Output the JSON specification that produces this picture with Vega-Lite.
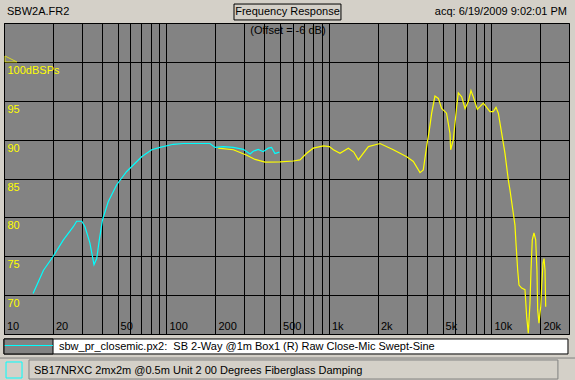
{
  "$schema": "https://vega.github.io/schema/vega-lite/v6.json",
  "width": 565,
  "height": 311,
  "autosize": {"type": "none"},
  "padding": {"left": 4, "top": 23, "right": 6, "bottom": 46},
  "background": "#d4d0c8",
  "config": {
    "view": {"fill": "#838383", "stroke": "#000000", "strokeWidth": 1},
    "font": "Liberation Sans",
    "text": {"font": "Liberation Sans", "fontSize": 11, "color": "#000000"},
    "axis": {
      "domain": false, "ticks": false, "title": null, "grid": true,
      "gridColor": "#000000", "gridOpacity": 1, "gridWidth": 1,
      "labelFont": "Liberation Sans", "labelFontSize": 11,
      "labelOverlap": false, "labelFlush": false, "labelBound": false
    }
  },
  "datasets": {
    "fr": [
      {"series": "SB 2-Way", "freq": 208, "spl": 88.9},
      {"series": "SB 2-Way", "freq": 258, "spl": 88.7},
      {"series": "SB 2-Way", "freq": 312, "spl": 88.0},
      {"series": "SB 2-Way", "freq": 351, "spl": 87.45},
      {"series": "SB 2-Way", "freq": 404, "spl": 87.1},
      {"series": "SB 2-Way", "freq": 500, "spl": 87.15},
      {"series": "SB 2-Way", "freq": 603, "spl": 87.25},
      {"series": "SB 2-Way", "freq": 663, "spl": 87.4},
      {"series": "SB 2-Way", "freq": 729, "spl": 88.24},
      {"series": "SB 2-Way", "freq": 800, "spl": 88.9},
      {"series": "SB 2-Way", "freq": 923, "spl": 89.2},
      {"series": "SB 2-Way", "freq": 1005, "spl": 89.1},
      {"series": "SB 2-Way", "freq": 1065, "spl": 88.7},
      {"series": "SB 2-Way", "freq": 1169, "spl": 88.24},
      {"series": "SB 2-Way", "freq": 1315, "spl": 88.9},
      {"series": "SB 2-Way", "freq": 1420, "spl": 88.4},
      {"series": "SB 2-Way", "freq": 1516, "spl": 87.4},
      {"series": "SB 2-Way", "freq": 1620, "spl": 88.2},
      {"series": "SB 2-Way", "freq": 1748, "spl": 89.1},
      {"series": "SB 2-Way", "freq": 2061, "spl": 89.5},
      {"series": "SB 2-Way", "freq": 2489, "spl": 88.7},
      {"series": "SB 2-Way", "freq": 3008, "spl": 87.8},
      {"series": "SB 2-Way", "freq": 3305, "spl": 87.2},
      {"series": "SB 2-Way", "freq": 3632, "spl": 85.75},
      {"series": "SB 2-Way", "freq": 3805, "spl": 86.1},
      {"series": "SB 2-Way", "freq": 3990, "spl": 89.1},
      {"series": "SB 2-Way", "freq": 4142, "spl": 91.2},
      {"series": "SB 2-Way", "freq": 4285, "spl": 93.4},
      {"series": "SB 2-Way", "freq": 4490, "spl": 95.6},
      {"series": "SB 2-Way", "freq": 4710, "spl": 95.3},
      {"series": "SB 2-Way", "freq": 4935, "spl": 94.0},
      {"series": "SB 2-Way", "freq": 5290, "spl": 93.4},
      {"series": "SB 2-Way", "freq": 5554, "spl": 90.8},
      {"series": "SB 2-Way", "freq": 5610, "spl": 88.7},
      {"series": "SB 2-Way", "freq": 5820, "spl": 89.95},
      {"series": "SB 2-Way", "freq": 6105, "spl": 94.2},
      {"series": "SB 2-Way", "freq": 6250, "spl": 96.0},
      {"series": "SB 2-Way", "freq": 6556, "spl": 95.5},
      {"series": "SB 2-Way", "freq": 6876, "spl": 94.0},
      {"series": "SB 2-Way", "freq": 7200, "spl": 94.9},
      {"series": "SB 2-Way", "freq": 7480, "spl": 96.3},
      {"series": "SB 2-Way", "freq": 7730, "spl": 95.5},
      {"series": "SB 2-Way", "freq": 8180, "spl": 93.9},
      {"series": "SB 2-Way", "freq": 8910, "spl": 94.7},
      {"series": "SB 2-Way", "freq": 9790, "spl": 93.6},
      {"series": "SB 2-Way", "freq": 10260, "spl": 93.6},
      {"series": "SB 2-Way", "freq": 10660, "spl": 94.15},
      {"series": "SB 2-Way", "freq": 11020, "spl": 93.4},
      {"series": "SB 2-Way", "freq": 11560, "spl": 90.8},
      {"series": "SB 2-Way", "freq": 12110, "spl": 88.24},
      {"series": "SB 2-Way", "freq": 12700, "spl": 84.8},
      {"series": "SB 2-Way", "freq": 13000, "spl": 83.5},
      {"series": "SB 2-Way", "freq": 13630, "spl": 80.5},
      {"series": "SB 2-Way", "freq": 13950, "spl": 79.0},
      {"series": "SB 2-Way", "freq": 14150, "spl": 76.7},
      {"series": "SB 2-Way", "freq": 14500, "spl": 73.2},
      {"series": "SB 2-Way", "freq": 14770, "spl": 71.3},
      {"series": "SB 2-Way", "freq": 15340, "spl": 70.9},
      {"series": "SB 2-Way", "freq": 16080, "spl": 70.7},
      {"series": "SB 2-Way", "freq": 16470, "spl": 67.2},
      {"series": "SB 2-Way", "freq": 16850, "spl": 65.1},
      {"series": "SB 2-Way", "freq": 17260, "spl": 69.0},
      {"series": "SB 2-Way", "freq": 17510, "spl": 73.2},
      {"series": "SB 2-Way", "freq": 17830, "spl": 77.1},
      {"series": "SB 2-Way", "freq": 18260, "spl": 78.0},
      {"series": "SB 2-Way", "freq": 18710, "spl": 77.1},
      {"series": "SB 2-Way", "freq": 19050, "spl": 73.2},
      {"series": "SB 2-Way", "freq": 19250, "spl": 68.1},
      {"series": "SB 2-Way", "freq": 19600, "spl": 66.4},
      {"series": "SB 2-Way", "freq": 20090, "spl": 68.5},
      {"series": "SB 2-Way", "freq": 20370, "spl": 71.1},
      {"series": "SB 2-Way", "freq": 20750, "spl": 74.1},
      {"series": "SB 2-Way", "freq": 21050, "spl": 74.7},
      {"series": "SB 2-Way", "freq": 21350, "spl": 73.2},
      {"series": "SB 2-Way", "freq": 21560, "spl": 68.5},
      {"series": "closemic", "freq": 15.1, "spl": 70.2},
      {"series": "closemic", "freq": 17.5, "spl": 73.2},
      {"series": "closemic", "freq": 20.1, "spl": 75.0},
      {"series": "closemic", "freq": 23.2, "spl": 77.1},
      {"series": "closemic", "freq": 26.7, "spl": 78.8},
      {"series": "closemic", "freq": 28.0, "spl": 79.5},
      {"series": "closemic", "freq": 30.1, "spl": 79.5},
      {"series": "closemic", "freq": 31.5, "spl": 78.8},
      {"series": "closemic", "freq": 33.8, "spl": 76.7},
      {"series": "closemic", "freq": 35.8, "spl": 73.9},
      {"series": "closemic", "freq": 37.2, "spl": 74.7},
      {"series": "closemic", "freq": 38.6, "spl": 77.1},
      {"series": "closemic", "freq": 40.4, "spl": 79.7},
      {"series": "closemic", "freq": 43.8, "spl": 82.0},
      {"series": "closemic", "freq": 49.4, "spl": 84.2},
      {"series": "closemic", "freq": 56.9, "spl": 85.9},
      {"series": "closemic", "freq": 70.3, "spl": 87.8},
      {"series": "closemic", "freq": 81.1, "spl": 88.7},
      {"series": "closemic", "freq": 91.2, "spl": 89.0},
      {"series": "closemic", "freq": 110, "spl": 89.4},
      {"series": "closemic", "freq": 127, "spl": 89.5},
      {"series": "closemic", "freq": 185, "spl": 89.5},
      {"series": "closemic", "freq": 199, "spl": 89.0},
      {"series": "closemic", "freq": 224, "spl": 89.1},
      {"series": "closemic", "freq": 258, "spl": 89.0},
      {"series": "closemic", "freq": 297, "spl": 88.75},
      {"series": "closemic", "freq": 327, "spl": 88.15},
      {"series": "closemic", "freq": 342, "spl": 88.5},
      {"series": "closemic", "freq": 367, "spl": 88.75},
      {"series": "closemic", "freq": 394, "spl": 88.45},
      {"series": "closemic", "freq": 423, "spl": 88.9},
      {"series": "closemic", "freq": 443, "spl": 89.0},
      {"series": "closemic", "freq": 465, "spl": 88.2},
      {"series": "closemic", "freq": 495, "spl": 88.4}
    ]
  },
  "layer": [
    {
      "data": {"name": "fr"},
      "transform": [{"filter": "datum.series == 'SB 2-Way'"}],
      "mark": {"type": "line", "color": "#ffff00", "strokeWidth": 1.2, "clip": true},
      "encoding": {
        "x": {
          "field": "freq", "type": "quantitative",
          "scale": {"type": "log", "domain": [10, 30000], "nice": false},
          "axis": {
            "orient": "bottom",
            "tickCount": 100,
            "values": [10, 20, 30, 40, 50, 60, 70, 80, 90, 100, 200, 300, 400, 500, 600, 700, 800, 900, 1000, 2000, 3000, 4000, 5000, 6000, 7000, 8000, 9000, 10000, 20000],
            "labelExpr": "indexof([10,20,50,100,200,500,1000,2000,5000,10000,20000], datum.value) >= 0 ? (datum.value >= 1000 ? (datum.value / 1000) + 'k' : datum.value + '') : ''",
            "labelAlign": "left", "labelBaseline": "alphabetic",
            "labelPadding": -4.5, "labelOffset": 2.5, "labelColor": "#000000"
          }
        },
        "y": {
          "field": "spl", "type": "quantitative",
          "scale": {"domain": [65, 105], "nice": false, "zero": false},
          "axis": {
            "orient": "left",
            "tickCount": 100,
            "values": [65, 70, 75, 80, 85, 90, 95, 100, 105],
            "labelExpr": "datum.value == 100 ? '100dBSPs' : (datum.value >= 70 && datum.value < 100 ? datum.value + '' : '')",
            "labelAlign": "left", "labelBaseline": "top",
            "labelPadding": -3, "labelOffset": 2.5, "labelColor": "#ffff00"
          }
        }
      }
    },
    {
      "data": {"name": "fr"},
      "transform": [{"filter": "datum.series == 'closemic'"}],
      "mark": {"type": "line", "color": "#00ffff", "strokeWidth": 1.2, "clip": true},
      "encoding": {
        "x": {"field": "freq", "type": "quantitative"},
        "y": {"field": "spl", "type": "quantitative"}
      }
    },
    {
      "data": {"values": [{}]},
      "mark": {"type": "point", "shape": "M -1 -0.5 L -1 0.5 L 1 0.5 Z", "filled": false, "stroke": "#ffff00", "strokeWidth": 1, "size": 144, "clip": false},
      "encoding": {
        "x": {"datum": 11.04, "type": "quantitative"},
        "y": {"datum": 100.37, "type": "quantitative"}
      }
    },
    {
      "data": {"values": [{}]},
      "mark": {"type": "text", "align": "left", "baseline": "middle", "clip": false},
      "encoding": {
        "x": {"datum": 10.43, "type": "quantitative"},
        "y": {"datum": 106.41, "type": "quantitative"},
        "text": {"value": "SBW2A.FR2"}
      }
    },
    {
      "data": {"values": [{}]},
      "mark": {"type": "rect", "fill": "#d4d0c8", "stroke": "#000000", "strokeWidth": 1, "clip": false},
      "encoding": {
        "x": {"datum": 260.3, "type": "quantitative"},
        "x2": {"datum": 1185},
        "y": {"datum": 107.44, "type": "quantitative"},
        "y2": {"datum": 105.39}
      }
    },
    {
      "data": {"values": [{}]},
      "mark": {"type": "text", "align": "center", "baseline": "middle", "clip": false},
      "encoding": {
        "x": {"datum": 555.4, "type": "quantitative"},
        "y": {"datum": 106.41, "type": "quantitative"},
        "text": {"value": "Frequency Response"}
      }
    },
    {
      "data": {"values": [{}]},
      "mark": {"type": "text", "align": "right", "baseline": "middle", "clip": false},
      "encoding": {
        "x": {"datum": 29150, "type": "quantitative"},
        "y": {"datum": 106.41, "type": "quantitative"},
        "text": {"value": "acq: 6/19/2009 9:02:01 PM"}
      }
    },
    {
      "data": {"values": [{}]},
      "mark": {"type": "text", "align": "center", "baseline": "middle", "clip": false},
      "encoding": {
        "x": {"datum": 559, "type": "quantitative"},
        "y": {"datum": 103.97, "type": "quantitative"},
        "text": {"value": "(Offset = -6 dB)"}
      }
    },
    {
      "data": {"values": [{}]},
      "mark": {"type": "rect", "fill": "#ffffff", "stroke": "#000000", "strokeWidth": 1, "clip": false},
      "encoding": {
        "x": {"datum": 10, "type": "quantitative"},
        "x2": {"datum": 29570},
        "y": {"datum": 64.36, "type": "quantitative"},
        "y2": {"datum": 62.43}
      }
    },
    {
      "data": {"values": [{}]},
      "mark": {"type": "rect", "fill": "#838383", "stroke": "#000000", "strokeWidth": 1, "clip": false},
      "encoding": {
        "x": {"datum": 10, "type": "quantitative"},
        "x2": {"datum": 20.03},
        "y": {"datum": 64.36, "type": "quantitative"},
        "y2": {"datum": 62.43}
      }
    },
    {
      "data": {"values": [{}]},
      "mark": {"type": "rule", "color": "#00ffff", "strokeWidth": 1.2, "clip": false},
      "encoding": {
        "x": {"datum": 10.1, "type": "quantitative"},
        "x2": {"datum": 20.0},
        "y": {"datum": 63.52, "type": "quantitative"}
      }
    },
    {
      "data": {"values": [{}]},
      "mark": {"type": "text", "align": "left", "baseline": "middle", "clip": false},
      "encoding": {
        "x": {"datum": 21.8, "type": "quantitative"},
        "y": {"datum": 63.39, "type": "quantitative"},
        "text": {"value": "sbw_pr_closemic.px2:\u00a0 SB 2-Way @1m Box1 (R) Raw Close-Mic Swept-Sine"}
      }
    },
    {
      "data": {"values": [{}]},
      "mark": {"type": "rule", "color": "#808080", "strokeWidth": 1, "clip": false},
      "encoding": {
        "x": {"datum": 9.45, "type": "quantitative"},
        "x2": {"datum": 32660},
        "y": {"datum": 61.91, "type": "quantitative"}
      }
    },
    {
      "data": {"values": [{}]},
      "mark": {"type": "rect", "fill": "#d4d0c8", "stroke": "#00ffff", "strokeWidth": 1, "clip": false},
      "encoding": {
        "x": {"datum": 10.29, "type": "quantitative"},
        "x2": {"datum": 12.91},
        "y": {"datum": 61.4, "type": "quantitative"},
        "y2": {"datum": 59.34}
      }
    },
    {
      "data": {"values": [{}]},
      "mark": {"type": "rect", "fill": "#d4d0c8", "stroke": "#808080", "strokeWidth": 1, "clip": false},
      "encoding": {
        "x": {"datum": 14.25, "type": "quantitative"},
        "x2": {"datum": 25640},
        "y": {"datum": 61.66, "type": "quantitative"},
        "y2": {"datum": 59.21}
      }
    },
    {
      "data": {"values": [{}]},
      "mark": {"type": "text", "align": "left", "baseline": "middle", "clip": false},
      "encoding": {
        "x": {"datum": 15.3, "type": "quantitative"},
        "y": {"datum": 60.24, "type": "quantitative"},
        "text": {"value": "SB17NRXC 2mx2m @0.5m Unit 2 00 Degrees Fiberglass Damping"}
      }
    }
  ]
}
